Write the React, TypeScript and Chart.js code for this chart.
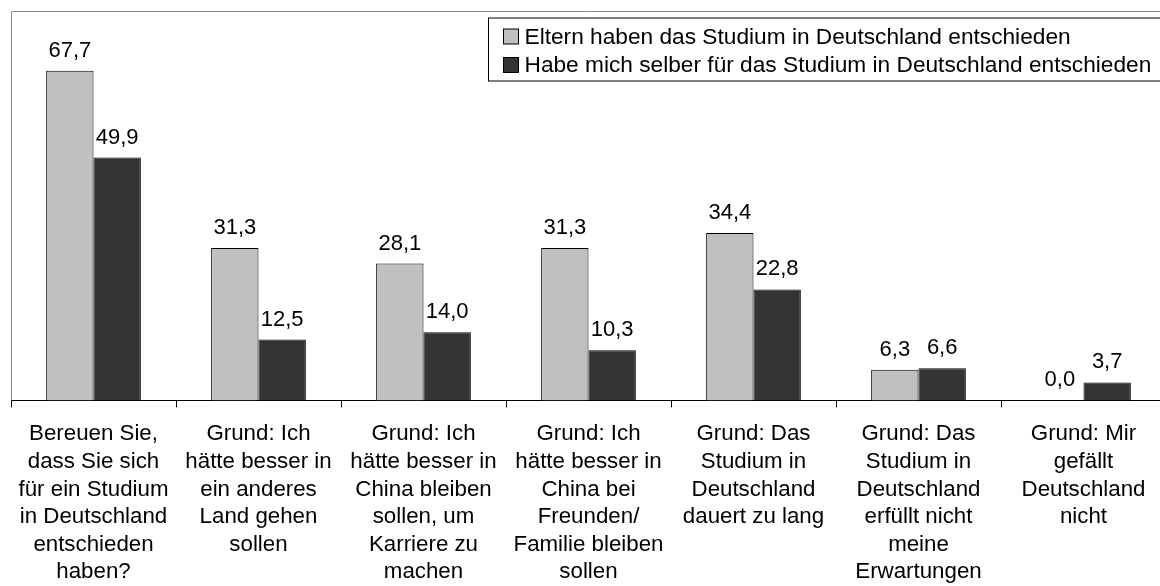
import React, { useEffect, useRef } from 'react';
import { Chart, registerables } from 'chart.js';

Chart.register(...registerables);

const categories: string[][] = [
  ['Bereuen Sie,', 'dass Sie sich', 'für ein Studium', 'in Deutschland', 'entschieden', 'haben?'],
  ['Grund: Ich', 'hätte besser in', 'ein anderes', 'Land gehen', 'sollen'],
  ['Grund: Ich', 'hätte besser in', 'China bleiben', 'sollen, um', 'Karriere zu', 'machen'],
  ['Grund: Ich', 'hätte besser in', 'China bei', 'Freunden/', 'Familie bleiben', 'sollen'],
  ['Grund: Das', 'Studium in', 'Deutschland', 'dauert zu lang'],
  ['Grund: Das', 'Studium in', 'Deutschland', 'erfüllt nicht', 'meine', 'Erwartungen'],
  ['Grund: Mir', 'gefällt', 'Deutschland', 'nicht'],
];

const seriesNames = [
  'Eltern haben das Studium in Deutschland entschieden',
  'Habe mich selber für das Studium in Deutschland entschieden',
];

const parentsDecided = [67.7, 31.3, 28.1, 31.3, 34.4, 6.3, 0.0];
const selfDecided = [49.9, 12.5, 14.0, 10.3, 22.8, 6.6, 3.7];

const yMin = 0;
const yMax = 80;

const FONT = '"Liberation Sans", Arial, Helvetica, sans-serif';
const LIGHT = '#C0C0C0';
const DARK = '#333333';

const fmt = (v: number) => v.toFixed(1).replace('.', ',');

const framePlugin = {
  id: 'frame',
  beforeDatasetsDraw(chart: any) {
    const { ctx, chartArea } = chart;
    ctx.save();
    ctx.strokeStyle = '#888888';
    ctx.lineWidth = 1;
    ctx.beginPath();
    ctx.moveTo(chartArea.left + 0.5, chartArea.bottom);
    ctx.lineTo(chartArea.left + 0.5, chartArea.top + 0.5);
    ctx.lineTo(chartArea.right - 0.5, chartArea.top + 0.5);
    ctx.lineTo(chartArea.right - 0.5, chartArea.bottom);
    ctx.stroke();
    ctx.restore();
  },
};

const valueLabelPlugin = {
  id: 'valueLabels',
  afterDatasetsDraw(chart: any) {
    const { ctx } = chart;
    ctx.save();
    ctx.font = `22px ${FONT}`;
    ctx.fillStyle = '#000';
    ctx.textAlign = 'center';
    ctx.textBaseline = 'alphabetic';
    chart.data.datasets.forEach((ds: any, i: number) => {
      const meta = chart.getDatasetMeta(i);
      meta.data.forEach((el: any, j: number) => {
        ctx.fillText(fmt(ds.data[j]), el.x, el.y - 14);
      });
    });
    ctx.restore();
  },
};

const legendBoxPlugin = {
  id: 'legendBox',
  afterDraw(chart: any) {
    const { ctx, chartArea } = chart;
    const left = chartArea.left + 477.5;
    const top = chartArea.top + 7;
    const height = 63;
    ctx.save();
    ctx.fillStyle = '#fff';
    ctx.fillRect(left, top, 800, height);
    ctx.strokeStyle = '#000';
    ctx.lineWidth = 1;
    ctx.strokeRect(left, top, 800, height);
    ctx.font = `22.7px ${FONT}`;
    ctx.textBaseline = 'middle';
    ctx.textAlign = 'left';
    const colors = [LIGHT, DARK];
    seriesNames.forEach((name, i) => {
      const cy = top + 18.5 + i * 28.5;
      ctx.fillStyle = colors[i];
      ctx.fillRect(left + 15, cy - 7.5, 15, 15);
      ctx.strokeStyle = '#000';
      ctx.strokeRect(left + 15, cy - 7.5, 15, 15);
      ctx.fillStyle = '#000';
      ctx.fillText(name, left + 36, cy + 1);
    });
    ctx.restore();
  },
};

export default function App() {
  const canvasRef = useRef<HTMLCanvasElement | null>(null);

  useEffect(() => {
    if (!canvasRef.current) return;
    const chart = new Chart(canvasRef.current, {
      type: 'bar',
      data: {
        labels: categories,
        datasets: [
          {
            label: seriesNames[0],
            data: parentsDecided,
            backgroundColor: LIGHT,
            borderColor: '#000',
            borderWidth: 1,
            categoryPercentage: 0.574,
            barPercentage: 1,
          },
          {
            label: seriesNames[1],
            data: selfDecided,
            backgroundColor: DARK,
            borderColor: '#000',
            borderWidth: 1,
            categoryPercentage: 0.574,
            barPercentage: 1,
          },
        ],
      },
      options: {
        responsive: false,
        animation: false,
        devicePixelRatio: 1,
        layout: { padding: { left: 11, top: 11, right: 19, bottom: 21 } },
        plugins: {
          legend: { display: false },
          tooltip: { enabled: false },
        },
        scales: {
          x: {
            offset: true,
            grid: {
              display: true,
              drawOnChartArea: false,
              drawTicks: true,
              tickLength: 7,
              color: '#000',
              offset: true,
            },
            border: { display: true, color: '#000', width: 1 },
            ticks: {
              color: '#000',
              font: { family: FONT, size: 22.3, lineHeight: '27.6px' },
              padding: 13,
              maxRotation: 0,
              minRotation: 0,
              autoSkip: false,
            },
          },
          y: {
            display: false,
            min: yMin,
            max: yMax,
          },
        },
      },
      plugins: [framePlugin, valueLabelPlugin, legendBoxPlugin],
    });
    return () => chart.destroy();
  }, []);

  return (
    <div
      style={{
        position: 'fixed',
        left: 0,
        top: 0,
        width: 1160,
        height: 586,
        overflow: 'hidden',
        background: '#fff',
      }}
    >
      <canvas ref={canvasRef} width={1185} height={620} style={{ display: 'block' }} />
    </div>
  );
}
